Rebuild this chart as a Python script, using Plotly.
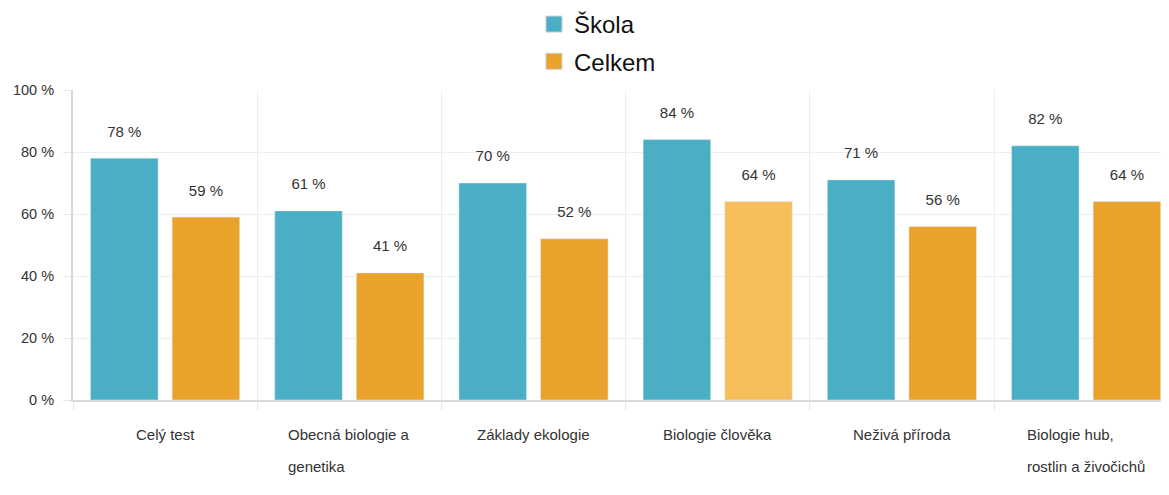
import plotly.graph_objects as go

categories = ["Celý test", "Obecná biologie a<br>genetika", "Základy ekologie",
              "Biologie člověka", "Neživá příroda", "Biologie hub,<br>rostlin a živočichů"]
skola = [78, 61, 70, 84, 71, 82]
celkem = [59, 41, 52, 64, 56, 64]
y_ticks = [0, 20, 40, 60, 80, 100]

FONT = "Liberation Sans, Arial, sans-serif"
TEAL = "#4AAFC5"
ORANGE = "#E9A32B"
ORANGE_HI = "#F5BE5A"

orange_colors = [ORANGE_HI if i == 3 else ORANGE for i in range(len(celkem))]


def bar_label(v):
    return f"<span style='font-size:15px'>{v} %</span><br>&nbsp;"


fig = go.Figure()
fig.add_trace(go.Bar(
    name="Škola", x=categories, y=skola, marker_color=TEAL, legendgroup="a",
    showlegend=False,
    text=[bar_label(v) for v in skola], textposition="outside",
    cliponaxis=False,
    textfont=dict(family=FONT, size=12, color="#333"),
))
fig.add_trace(go.Bar(
    name="Celkem", x=categories, y=celkem, marker_color=orange_colors, legendgroup="b",
    showlegend=False,
    text=[bar_label(v) for v in celkem], textposition="outside",
    cliponaxis=False,
    textfont=dict(family=FONT, size=12, color="#333"),
))
# legend entries with larger square swatches
for name, col, grp in [("Škola", TEAL, "a"), ("Celkem", ORANGE, "b")]:
    fig.add_trace(go.Scatter(
        name=name, x=[None], y=[None], mode="markers", legendgroup=grp,
        marker=dict(symbol="square", size=16, color=col,
                    line=dict(color="#D0D0D0", width=1)),
        showlegend=True,
    ))

annotations = []
for c in categories:
    lines = "<br>".join(f"<span style='font-size:15px'>{p}</span>" for p in c.split("<br>"))
    annotations.append(dict(x=c, xref="x", y=0, yref="paper", yanchor="top",
                            xanchor="center", yshift=-24, showarrow=False,
                            text=lines, align="left",
                            font=dict(family=FONT, size=24.6, color="#333")))

fig.update_layout(
    width=1161, height=487,
    margin=dict(l=65, r=0, t=82, b=95, autoexpand=False),
    plot_bgcolor="white", paper_bgcolor="white",
    barmode="group", bargap=0.114, bargroupgap=0.172,
    font=dict(family=FONT, size=15, color="#333"),
    showlegend=True,
    legend=dict(orientation="v", xref="paper", yref="paper",
                x=0.4206, xanchor="left", y=1.284, yanchor="top",
                font=dict(family=FONT, size=24, color="#111"),
                itemsizing="trace",
                tracegroupgap=3, bgcolor="rgba(0,0,0,0)"),
    annotations=annotations,
    hovermode=False,
)
fig.update_xaxes(
    type="category", range=[-0.5, 5.45], showticklabels=False,
    tickson="boundaries", showgrid=True, gridcolor="#EEEEEE", gridwidth=1,
    ticks="outside", ticklen=8, tickcolor="#E6E6E6",
    showline=True, linecolor="#D9D9D9", linewidth=2, zeroline=False,
)
fig.update_yaxes(
    range=[0, 100], tickvals=y_ticks, ticktext=[f"{v} %" for v in y_ticks],
    showgrid=True, gridcolor="#EEEEEE", gridwidth=1,
    ticks="outside", ticklen=8, tickcolor="#E6E6E6",
    showline=True, linecolor="#D9D9D9", linewidth=2, zeroline=False,
    tickfont=dict(family=FONT, size=14.5, color="#333"),
    ticklabelstandoff=6,
)

fig.write_html("out.html")
